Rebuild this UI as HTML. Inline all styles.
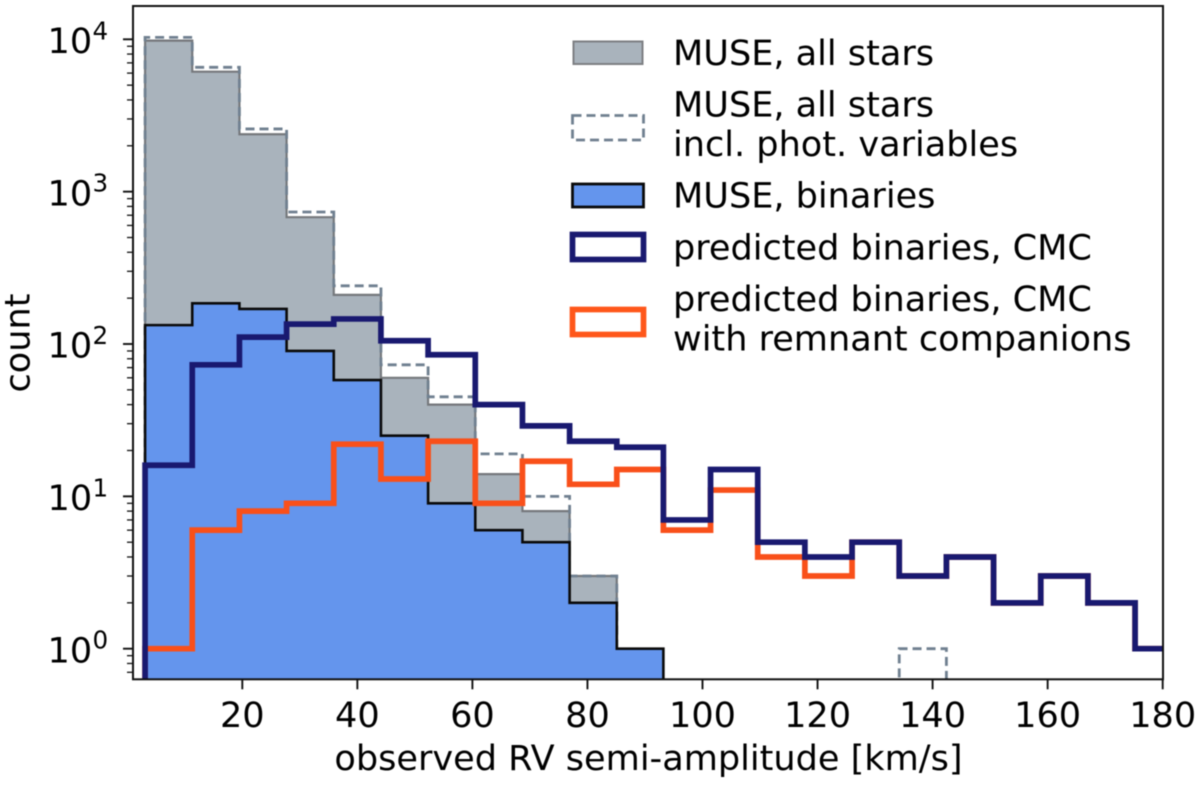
<!DOCTYPE html>
<html lang="en">
<head>
<meta charset="utf-8">
<title>Observed RV semi-amplitude histogram</title>
<style>
html,body{margin:0;padding:0;background:#fff;}
#chart{display:block;width:1200px;height:785px;filter:blur(0.45px);}
text{font-family:"DejaVu Sans","Liberation Sans",sans-serif;fill:#000;}
.tick-text{font-size:35.1px;}
.sup-text{font-size:24.6px;}
.axis-title{font-size:35.1px;}
.legend-text{font-size:35.1px;}
</style>
</head>
<body>
<svg id="chart" xmlns="http://www.w3.org/2000/svg" width="1200" height="785" viewBox="0 0 1200 785">
  <defs>
    <clipPath id="plot-clip"><rect x="133" y="6" width="1030" height="673.3"></rect></clipPath>
  </defs>
  <rect x="133" y="6" width="1030" height="673.3" fill="#fff"></rect>
  <g id="marks" clip-path="url(#plot-clip)"></g>
  <g id="y-ticks"></g>
  <g id="x-ticks"></g>
  <rect x="133" y="6" width="1030" height="673.3" fill="none" stroke="#111" stroke-width="2"></rect>

  <text class="axis-title" x="648.5" y="770" text-anchor="middle">observed RV semi-amplitude [km/s]</text>
  <text class="axis-title" x="0" y="0" text-anchor="middle" transform="translate(29.5,343) rotate(-90)">count</text>

  <g>
    <g>
      <rect x="573.5" y="41.5" width="69" height="22.5" fill="#a9b3bc" stroke="#7d7f83" stroke-width="2"></rect>
      <text class="legend-text" x="673" y="65">MUSE, all stars</text>
    </g>
    <g>
      <rect x="572.5" y="115.5" width="71" height="24.5" fill="none" stroke="#708090" stroke-width="2.8" stroke-dasharray="9 5"></rect>
      <text class="legend-text" x="673" y="116.7">MUSE, all stars</text>
      <text class="legend-text" x="673" y="156">incl. phot. variables</text>
    </g>
    <g>
      <rect x="572.5" y="184" width="71" height="23" fill="#6495ed" stroke="#0a0a0a" stroke-width="2.8"></rect>
      <text class="legend-text" x="673" y="207.7">MUSE, binaries</text>
    </g>
    <g>
      <rect x="572.5" y="234.5" width="71" height="25" fill="none" stroke="#191970" stroke-width="5.7"></rect>
      <text class="legend-text" x="673" y="259.3">predicted binaries, CMC</text>
    </g>
    <g>
      <rect x="572.5" y="309.5" width="71" height="25" fill="none" stroke="#ff571a" stroke-width="5.7"></rect>
      <text class="legend-text" x="673" y="311">predicted binaries, CMC</text>
      <text class="legend-text" x="673" y="350.7">with remnant companions</text>
    </g>
  </g>
</svg>
<script>
var binEdges = [3.1, 11.3, 19.5, 27.7, 35.9, 44.1, 52.3, 60.5, 68.7, 76.9, 85.1, 93.2, 101.4, 109.6, 117.8, 126.0, 134.2, 142.4, 150.6, 158.8, 167.0, 175.2, 183.4];
var allStars = [9800, 6130, 2380, 680, 210, 60, 40, 14, 8, 3, 0, 0, 0, 0, 0, 0, 0, 0, 0, 0, 0, 0];
var allStarsPhotVar = [10300, 6550, 2580, 735, 241, 73, 45, 19, 10, 3, 0, 0, 0, 0, 0, 0, 1, 0, 0, 0, 0, 0];
var museBinaries = [133, 185, 170, 90, 58, 25, 9, 6, 5, 2, 1, 0, 0, 0, 0, 0, 0, 0, 0, 0, 0, 0];
var predictedCmc = [16, 73, 111, 135, 146, 105, 85, 40, 29, 23, 21, 7, 15, 5, 4, 5, 3, 4, 2, 3, 2, 1];
var predictedRemnant = [1, 6, 8, 9, 22, 13, 23, 9, 17, 12, 15, 6, 11, 4, 3, 5, 3, 4, 2, 3, 2, 1];
var xTickValues = [20, 40, 60, 80, 100, 120, 140, 160, 180];
var yTickExponents = [0, 1, 2, 3, 4];
var yMinorMultipliers = [2, 3, 4, 5, 6, 7, 8, 9];

var SVGNS = 'http://www.w3.org/2000/svg';
var plotBottom = 679.3;
var plotTop = 6;

function xScale(v) { return 133 + (v - 1) * 5.7525; }
function yScale(v) { return v > 0 ? 648.7 - 152.35 * (Math.log(v) / Math.LN10) : plotBottom + 20; }

function stepPath(values) {
  var d = 'M' + xScale(binEdges[0]).toFixed(2) + ' ' + yScale(0).toFixed(2);
  for (var i = 0; i < values.length; i++) {
    var y = yScale(values[i]).toFixed(2);
    d += 'V' + y + 'H' + xScale(binEdges[i + 1]).toFixed(2);
  }
  d += 'V' + yScale(0).toFixed(2);
  return d;
}

function addHist(name, values, fill, stroke, width, dash) {
  var el = document.createElementNS(SVGNS, 'path');
  
  
  el.setAttribute('d', stepPath(values));
  el.setAttribute('fill', fill);
  el.setAttribute('stroke', stroke);
  el.setAttribute('stroke-width', width);
  el.setAttribute('stroke-linejoin', 'miter');
  if (dash) { el.setAttribute('stroke-dasharray', dash); }
  document.getElementById('marks').appendChild(el);
}

addHist('hist-muse-all-stars', allStars, '#a9b3bc', '#75787c', 2.2);
addHist('hist-muse-all-stars-phot-variables', allStarsPhotVar, 'none', '#708090', 2.8, '9 5');
addHist('hist-muse-binaries', museBinaries, '#6495ed', '#0a0a0a', 2.6);
addHist('hist-predicted-remnant', predictedRemnant, 'none', '#f9501a', 5.7);
addHist('hist-predicted-cmc', predictedCmc, 'none', '#191970', 5.7);

function addTickLine(parent, name, x1, y1, x2, y2, width) {
  var line = document.createElementNS(SVGNS, 'line');
  
  
  line.setAttribute('x1', x1);
  line.setAttribute('y1', y1);
  line.setAttribute('x2', x2);
  line.setAttribute('y2', y2);
  line.setAttribute('stroke', '#111');
  line.setAttribute('stroke-width', width);
  parent.appendChild(line);
}

var xGroup = document.getElementById('x-ticks');
xTickValues.forEach(function (v) {
  var px = xScale(v);
  addTickLine(xGroup, 'x-tick-mark', px, plotBottom, px, plotBottom + 10, 1.9);
  var label = document.createElementNS(SVGNS, 'text');
  
  
  label.setAttribute('class', 'tick-text');
  label.setAttribute('x', px);
  label.setAttribute('y', 727);
  label.setAttribute('text-anchor', 'middle');
  label.textContent = String(v);
  xGroup.appendChild(label);
});

var yGroup = document.getElementById('y-ticks');
yTickExponents.forEach(function (exp) {
  var py = yScale(Math.pow(10, exp));
  addTickLine(yGroup, 'y-tick-mark', 123, py, 133, py, 1.9);
  var label = document.createElementNS(SVGNS, 'text');
  
  
  label.setAttribute('class', 'tick-text');
  label.setAttribute('x', 47.5);
  label.setAttribute('y', py + 13.6);
  label.textContent = '10';
  yGroup.appendChild(label);
  var sup = document.createElementNS(SVGNS, 'text');
  
  
  sup.setAttribute('class', 'sup-text');
  sup.setAttribute('x', 92.5);
  sup.setAttribute('y', py);
  sup.textContent = String(exp);
  yGroup.appendChild(sup);
});

for (var e = -1; e <= 4; e++) {
  yMinorMultipliers.forEach(function (m) {
    var val = m * Math.pow(10, e);
    var py = yScale(val);
    if (py > plotBottom || py < plotTop) { return; }
    addTickLine(yGroup, 'y-minor-tick-mark', 127, py, 133, py, 1.3);
  });
}
</script>
</body>
</html>
